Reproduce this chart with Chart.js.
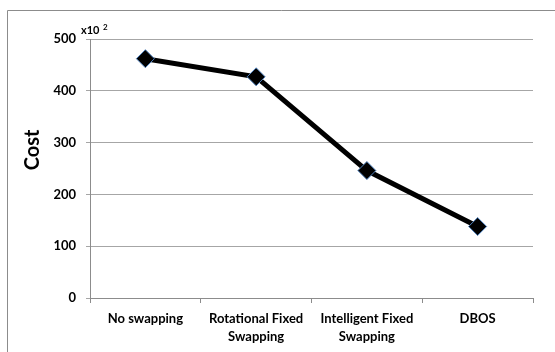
<!DOCTYPE html>
<html>
<head>
<meta charset="utf-8">
<script src="https://cdn.jsdelivr.net/npm/chart.js@4.4.1/dist/chart.umd.min.js"></script>
<style>
    html, body { margin: 0; padding: 0; background: #fff; }
    #wrap { width: 555px; height: 352px; position: relative; }
</style>
</head>
<body>
<div id="wrap"><canvas id="cost-chart"></canvas></div>
<script>
// values, cost in units of x10^2
var categories = [['No swapping'], ['Rotational Fixed', 'Swapping'], ['Intelligent Fixed', 'Swapping'], ['DBOS']];
var costValues = [462, 427, 246, 138];
var yTicks = [0, 100, 200, 300, 400, 500];

var fontFamily = "Lato, 'Open Sans', sans-serif";

// outer frame, the rotated axis title and the x10^2 multiplier
var decorations = {
    id: 'decorations',
    beforeDraw: function (chart) {
        var ctx = chart.ctx;
        ctx.save();
        ctx.strokeStyle = '#8c8c8c';
        ctx.lineWidth = 1;
        ctx.beginPath();
        ctx.moveTo(7.5, 352);
        ctx.lineTo(7.5, 10.5);
        ctx.lineTo(555, 10.5);
        ctx.stroke();
        ctx.restore();
    },
    afterDraw: function (chart) {
        var ctx = chart.ctx;
        ctx.save();
        ctx.fillStyle = '#000';
        ctx.font = 'bold 20px ' + fontFamily;
        ctx.textAlign = 'center';
        ctx.textBaseline = 'middle';
        ctx.translate(33, 150);
        ctx.rotate(-Math.PI / 2);
        ctx.fillText('Cost', 0, 0);
        ctx.restore();

        ctx.save();
        ctx.fillStyle = '#000';
        ctx.font = 'bold 11px ' + fontFamily;
        ctx.textBaseline = 'middle';
        ctx.fillText('x10', 81, 30);
        ctx.font = 'bold 8px ' + fontFamily;
        ctx.fillText('2', 103, 27);
        ctx.restore();
    }
};

var ctx = document.getElementById('cost-chart');
new Chart(ctx, {
    type: 'line',
    data: {
        labels: categories,
        datasets: [{
            data: costValues,
            borderColor: '#000',
            borderWidth: 5,
            pointStyle: 'rectRot',
            pointRadius: 9,
            pointHoverRadius: 9,
            pointBackgroundColor: '#000',
            pointBorderColor: '#4f81bd',
            pointBorderWidth: 1,
            tension: 0
        }]
    },
    options: {
        responsive: true,
        maintainAspectRatio: false,
        animation: false,
        layout: {
            padding: { left: 0, top: 39, right: 22, bottom: 0 }
        },
        plugins: {
            legend: { display: false },
            tooltip: { enabled: false }
        },
        scales: {
            x: {
                offset: true,
                grid: {
                    offset: true,
                    drawOnChartArea: false,
                    drawTicks: true,
                    tickLength: 5,
                    color: '#8c8c8c'
                },
                border: { color: '#8c8c8c' },
                ticks: {
                    color: '#000',
                    font: { family: fontFamily, size: 13, weight: 'bold', lineHeight: 1.35 },
                    padding: 7,
                    maxRotation: 0,
                    autoSkip: false
                },
                afterFit: function (scale) {
                    scale.height = 54;
                }
            },
            y: {
                min: 0,
                max: 500,
                afterBuildTicks: function (scale) {
                    scale.ticks = yTicks.map(function (v) { return { value: v }; });
                },
                grid: {
                    color: '#a6a6a6',
                    tickLength: 4,
                    drawTicks: true
                },
                border: { color: '#8c8c8c' },
                ticks: {
                    color: '#000',
                    font: { family: fontFamily, size: 13, weight: 'bold' },
                    padding: 10
                },
                afterFit: function (scale) {
                    scale.width = 90;
                }
            }
        }
    },
    plugins: [decorations]
});
</script>
</body>
</html>
